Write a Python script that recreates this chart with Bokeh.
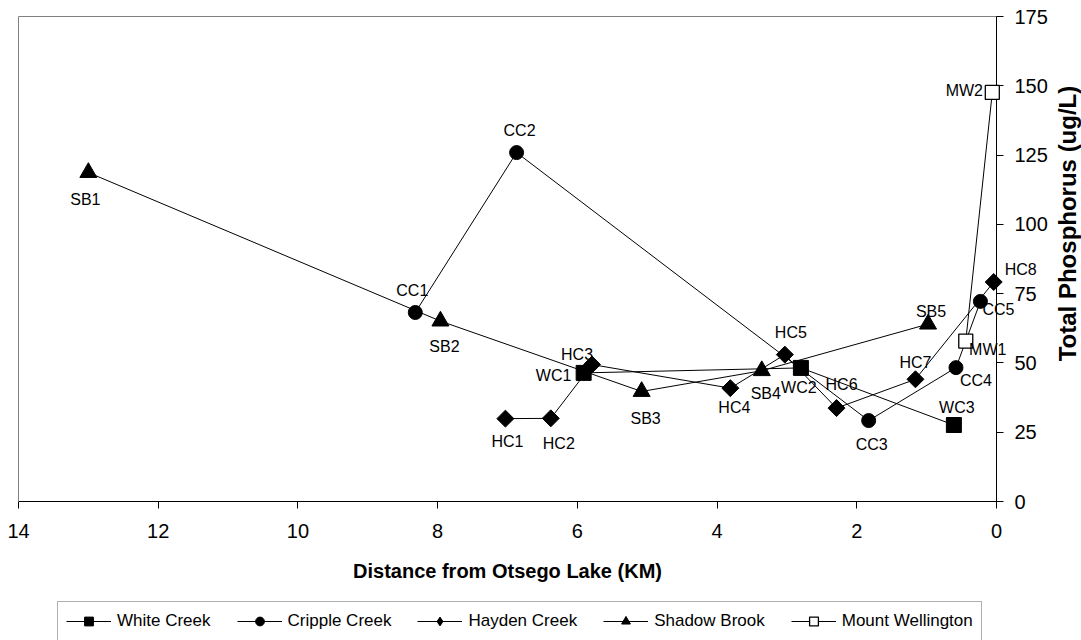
import numpy as np
from bokeh.plotting import figure
from bokeh.models import (ColumnDataSource, Range1d, FixedTicker, LabelSet, Label,
                          Legend, LegendItem, LinearAxis)
from bokeh.core.properties import value
from bokeh.embed import file_html
from bokeh.resources import INLINE

# ---------------- data ----------------
wc_names = ["WC1", "WC2", "WC3"]
wc_km = [5.91, 2.80, 0.61]
wc_tp = [46.4, 48.2, 27.6]

cc_names = ["CC1", "CC2", "CC3", "CC4", "CC5"]
cc_km = [8.32, 6.87, 1.83, 0.58, 0.23]
cc_tp = [68.2, 125.9, 29.2, 48.3, 72.2]

hc_names = ["HC1", "HC2", "HC3", "HC4", "HC5", "HC6", "HC7", "HC8"]
hc_km = [7.03, 6.38, 5.79, 3.81, 3.03, 2.29, 1.16, 0.04]
hc_tp = [29.9, 30.0, 49.4, 40.9, 53.0, 33.7, 44.1, 79.2]

sb_names = ["SB1", "SB2", "SB3", "SB4", "SB5"]
sb_km = [13.0, 7.96, 5.08, 3.36, 0.98]
sb_tp = [118.7, 65.1, 39.7, 47.2, 64.0]

mw_names = ["MW1", "MW2"]
mw_km = [0.44, 0.06]
mw_tp = [57.9, 147.6]

x_ticks = [0, 2, 4, 6, 8, 10, 12, 14]
y_ticks = [0, 25, 50, 75, 100, 125, 150, 175]

series_labels = ["White Creek", "Cripple Creek", "Hayden Creek", "Shadow Brook", "Mount Wellington"]
x_title = "Distance from Otsego Lake (KM)"
y_title = "Total Phosphorus (ug/L)"

# ---------------- layout / style constants ----------------
# label placement (screen px: dx right, dy down)
label_offsets = {
    "WC1": (-30, 3), "WC2": (-2, 20), "WC3": (3, -18),
    "CC1": (-3, -22), "CC2": (3, -22), "CC3": (3, 24), "CC4": (20, 13), "CC5": (18, 8),
    "HC1": (2, 23), "HC2": (8, 25), "HC3": (-15, -10), "HC4": (4, 19), "HC5": (6, -22),
    "HC6": (5, -24), "HC7": (0, -17), "HC8": (27, -13),
    "SB1": (-3, 27), "SB2": (4, 25), "SB3": (4, 27), "SB4": (4, 23), "SB5": (3, -13),
    "MW1": (22, 8), "MW2": (-28, -2),
}

FONT = "Liberation Sans"
W, H = 1081, 640
LEFT, TOP = 18, 16              # plot-area left / top in px
AX_X, AX_Y = 996, 501           # px of the y-axis line (x=0) and x-axis line (y=0)
X_MAX, Y_MAX = 14, 175
px_per_km = (AX_X - LEFT) / X_MAX
px_per_unit = (AX_Y - TOP) / Y_MAX
x_start = X_MAX + LEFT / px_per_km        # data x at the left canvas edge
x_end = -(W - AX_X) / px_per_km           # data x at the right canvas edge
y_start = -(H - AX_Y) / px_per_unit       # data y at the bottom canvas edge
y_end = Y_MAX + TOP / px_per_unit         # data y at the top canvas edge

p = figure(width=W, height=H,
           x_range=Range1d(x_start, x_end), y_range=Range1d(y_start, y_end),
           x_axis_location=None, y_axis_location=None,
           output_backend="svg", toolbar_location=None,
           min_border_left=0, min_border_right=0,
           min_border_top=0, min_border_bottom=0)
p.grid.visible = False
p.outline_line_color = None
p.background_fill_color = "white"
p.border_fill_color = "white"

def make_src(names, km, tp):
    return ColumnDataSource(dict(
        name=names, km=km, tp=tp,
        dx=[label_offsets[n][0] for n in names],
        dy=[-label_offsets[n][1] for n in names],
    ))

src_wc = make_src(wc_names, wc_km, wc_tp)
src_cc = make_src(cc_names, cc_km, cc_tp)
src_hc = make_src(hc_names, hc_km, hc_tp)
src_sb = make_src(sb_names, sb_km, sb_tp)
src_mw = make_src(mw_names, mw_km, mw_tp)

# ---------------- axes (drawn beneath the markers) ----------------
def bare_axis(**kw):
    ax = LinearAxis(ticker=FixedTicker(ticks=[]), axis_line_color="#808080",
                    major_tick_out=0, major_tick_in=0, minor_tick_out=0, minor_tick_in=0,
                    level="underlay", **kw)
    return ax

p.add_layout(bare_axis(bounds=(0, X_MAX), fixed_location=Y_MAX), "above")
p.add_layout(bare_axis(bounds=(0, Y_MAX), fixed_location=X_MAX), "left")

xa = LinearAxis(ticker=FixedTicker(ticks=x_ticks), bounds=(0, X_MAX), fixed_location=0,
                level="underlay")
xa.major_tick_out = 7
xa.major_tick_in = 0
xa.minor_tick_out = 0
xa.minor_tick_in = 0
xa.axis_line_color = "black"
xa.major_tick_line_color = "black"
xa.major_label_text_font = FONT
xa.major_label_text_font_size = "20px"
xa.major_label_text_color = "black"
xa.major_label_standoff = 15
xa.axis_label = x_title
xa.axis_label_text_font = FONT
xa.axis_label_text_font_style = "bold"
xa.axis_label_text_font_size = "20px"
xa.axis_label_text_color = "black"
xa.axis_label_standoff = 19
p.add_layout(xa, "below")

ya = LinearAxis(ticker=FixedTicker(ticks=y_ticks), bounds=(0, Y_MAX), fixed_location=0,
                level="underlay")
ya.major_tick_out = 7
ya.major_tick_in = 0
ya.minor_tick_out = 0
ya.minor_tick_in = 0
ya.axis_line_color = "black"
ya.major_tick_line_color = "black"
ya.major_label_text_font = FONT
ya.major_label_text_font_size = "20px"
ya.major_label_text_color = "black"
ya.major_label_standoff = 11
p.add_layout(ya, "right")

# ---------------- series ----------------
lw = dict(line_color="black", line_width=1)
l_wc = p.line("km", "tp", source=src_wc, **lw)
l_cc = p.line("km", "tp", source=src_cc, **lw)
l_hc = p.line("km", "tp", source=src_hc, **lw)
l_sb = p.line("km", "tp", source=src_sb, **lw)
l_mw = p.line("km", "tp", source=src_mw, **lw)

m_wc = p.scatter("km", "tp", source=src_wc, marker="square", size=15,
                 fill_color="black", line_color="black")
m_cc = p.scatter("km", "tp", source=src_cc, marker="circle", size=14,
                 fill_color="black", line_color="black")
# narrow diamond used as the legend glyph, hidden beneath the rotated squares
m_hc_leg = p.scatter("km", "tp", source=src_hc, marker="diamond", size=14,
                     fill_color="black", line_color="black")
m_hc = p.scatter("km", "tp", source=src_hc, marker="square", size=12, angle=np.pi / 4,
                 fill_color="black", line_color="black")
m_sb = p.scatter("km", "tp", source=src_sb, marker="triangle", size=17,
                 fill_color="black", line_color="black")
m_mw = p.scatter("km", "tp", source=src_mw, marker="square", size=14,
                 fill_color="white", line_color="black", line_width=1.3)

for src in (src_wc, src_cc, src_hc, src_sb, src_mw):
    p.add_layout(LabelSet(x="km", y="tp", text="name", source=src,
                          x_offset="dx", y_offset="dy",
                          text_align="center", text_baseline="middle",
                          text_font=value(FONT), text_font_size=value("16px"),
                          text_color="black"))

p.add_layout(Label(x=-(1066.7 - AX_X) / px_per_km, y=(AX_Y - 223) / px_per_unit,
                   text=y_title, angle=np.pi / 2,
                   text_align="center", text_baseline="middle",
                   text_font=FONT, text_font_style="bold", text_font_size="24px",
                   text_color="black"))

legend = Legend(items=[
    LegendItem(label=series_labels[0], renderers=[l_wc, m_wc]),
    LegendItem(label=series_labels[1], renderers=[l_cc, m_cc]),
    LegendItem(label=series_labels[2], renderers=[l_hc, m_hc_leg]),
    LegendItem(label=series_labels[3], renderers=[l_sb, m_sb]),
    LegendItem(label=series_labels[4], renderers=[l_mw, m_mw]),
], orientation="horizontal", location=(57, -1.3))
legend.margin = 0
legend.padding = 8
legend.spacing = 26
legend.label_standoff = 6
legend.glyph_width = 45
legend.glyph_height = 22
legend.label_height = 22
legend.label_text_font = FONT
legend.label_text_font_size = "17px"
legend.label_text_color = "black"
legend.border_line_color = "#606060"
legend.border_line_width = 1
legend.background_fill_color = "white"
legend.background_fill_alpha = 1
p.add_layout(legend)

open("out.html", "w").write(file_html(p, INLINE))
